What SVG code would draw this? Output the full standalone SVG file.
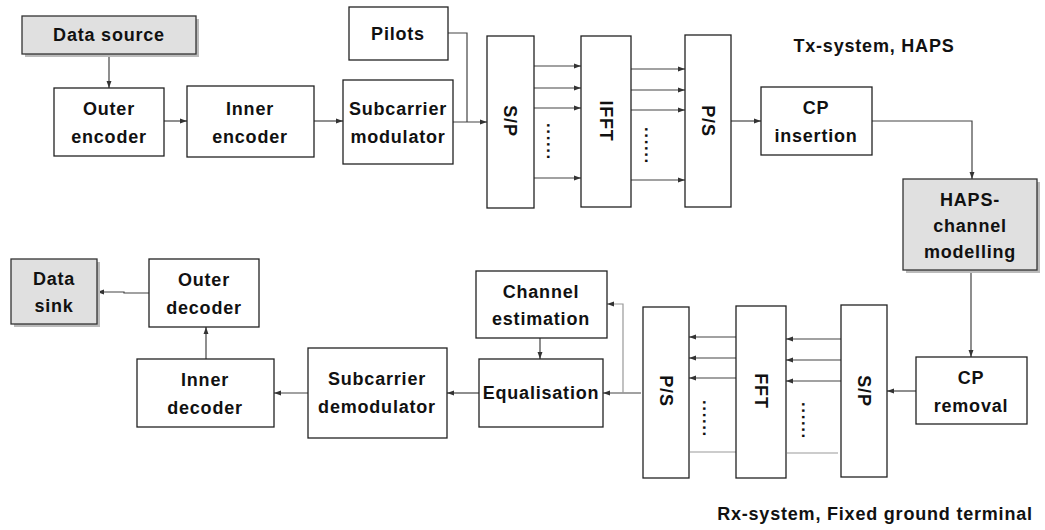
<svg xmlns="http://www.w3.org/2000/svg" width="1045" height="530" viewBox="0 0 1045 530">
<style>
.b{fill:#fff;stroke:#222;stroke-width:1.3}
.g{fill:#e0e0e0;stroke:#333;stroke-width:1.3}
.sh{fill:#bbb;stroke:none}
.t{font-family:"Liberation Sans",Arial,sans-serif;font-weight:bold;font-size:18px;letter-spacing:0.8px;fill:#111;text-anchor:middle}
.d{font-family:"Liberation Sans",Arial,sans-serif;font-weight:bold;font-size:17px;fill:#111;letter-spacing:1.6px}
.c{fill:none;stroke:#444;stroke-width:1.2}
.cl{fill:none;stroke:#999;stroke-width:1.2}
</style>
<defs>
<marker id="a" viewBox="0 0 10 10" refX="10" refY="5" markerWidth="7" markerHeight="7" orient="auto" markerUnits="userSpaceOnUse">
<path d="M0,1.5 L10,5 L0,8.5 z" fill="#333"/>
</marker>
</defs>
<g id="connectors">
<path class="c" d="M109,54 V88" marker-end="url(#a)"/>
<path class="c" d="M164,121 H187" marker-end="url(#a)"/>
<path class="c" d="M314,121 H343" marker-end="url(#a)"/>
<path class="c" d="M453,122 H487" marker-end="url(#a)"/>
<path class="c" d="M448,33 H467 V122" />
<path class="c" d="M534,66 H581" marker-end="url(#a)"/>
<path class="c" d="M534,88 H581" marker-end="url(#a)"/>
<path class="c" d="M534,108 H581" marker-end="url(#a)"/>
<path class="c" d="M534,178 H581" marker-end="url(#a)"/>
<path class="c" d="M631,69 H685" marker-end="url(#a)"/>
<path class="c" d="M631,90 H685" marker-end="url(#a)"/>
<path class="c" d="M631,110 H685" marker-end="url(#a)"/>
<path class="c" d="M631,180 H685" marker-end="url(#a)"/>
<path class="c" d="M731,121 H761" marker-end="url(#a)"/>
<path class="c" d="M872,121 H972 V179" marker-end="url(#a)"/>
<path class="c" d="M971,270 V357" marker-end="url(#a)"/>
<path class="c" d="M916,391 H887" marker-end="url(#a)"/>
<path class="c" d="M841,339 H786" marker-end="url(#a)"/>
<path class="c" d="M841,360 H786" marker-end="url(#a)"/>
<path class="c" d="M841,381 H786" marker-end="url(#a)"/>
<path class="cl" d="M838,453 H787"/>
<path class="c" d="M736,337 H689" marker-end="url(#a)"/>
<path class="c" d="M736,358 H689" marker-end="url(#a)"/>
<path class="c" d="M736,378 H689" marker-end="url(#a)"/>
<path class="cl" d="M736,452 H690"/>
<path class="c" d="M641,393 H603" marker-end="url(#a)"/>
<path class="cl" d="M623,393 V304 H607" marker-end="url(#a)"/>
<path class="c" d="M540,338 V359" marker-end="url(#a)"/>
<path class="c" d="M479,393 H447" marker-end="url(#a)"/>
<path class="c" d="M308,393 H274" marker-end="url(#a)"/>
<path class="c" d="M206,359 V327" marker-end="url(#a)"/>
<path class="c" d="M149,293 H124 V292 H97" marker-end="url(#a)"/>
</g>
<g id="data-source"><rect class="sh" x="25" y="19" width="174" height="38"/><rect class="g" x="22" y="16" width="174" height="38"/><text class="t" x="109" y="41">Data source</text></g>
<g id="outer-encoder"><rect class="b" x="54" y="88" width="110" height="68"/><text class="t" x="109" y="115">Outer</text><text class="t" x="109" y="143">encoder</text></g>
<g id="inner-encoder"><rect class="b" x="187" y="86" width="127" height="71"/><text class="t" x="250" y="115">Inner</text><text class="t" x="250" y="143">encoder</text></g>
<g id="pilots"><rect class="b" x="349" y="7" width="99" height="53"/><text class="t" x="398" y="40">Pilots</text></g>
<g id="subcarrier-modulator"><rect class="b" x="343" y="80" width="110" height="84"/><text class="t" x="398" y="115">Subcarrier</text><text class="t" x="398" y="143">modulator</text></g>
<g id="sp-tx"><rect class="b" x="487" y="36" width="47" height="172"/><text class="t" transform="translate(504,121) rotate(90)">S/P</text></g>
<g id="dots-tx1"><text class="d" transform="translate(547,123) rotate(90)">......</text></g>
<g id="ifft"><rect class="b" x="581" y="36" width="50" height="171"/><text class="t" transform="translate(600,121) rotate(90)">IFFT</text></g>
<g id="dots-tx2"><text class="d" transform="translate(645,127) rotate(90)">......</text></g>
<g id="ps-tx"><rect class="b" x="685" y="35" width="46" height="172"/><text class="t" transform="translate(702,121) rotate(90)">P/S</text></g>
<g id="cp-insertion"><rect class="b" x="761" y="87" width="111" height="68"/><text class="t" x="816" y="114">CP</text><text class="t" x="816" y="142">insertion</text></g>
<g id="tx-label"><text class="t" x="874" y="52">Tx-system, HAPS</text></g>
<g id="haps-channel"><rect class="sh" x="906" y="182" width="134" height="91"/><rect class="g" x="903" y="179" width="134" height="91"/><text class="t" x="970" y="206">HAPS-</text><text class="t" x="970" y="232">channel</text><text class="t" x="970" y="258">modelling</text></g>
<g id="cp-removal"><rect class="b" x="916" y="357" width="111" height="67"/><text class="t" x="971" y="384">CP</text><text class="t" x="971" y="412">removal</text></g>
<g id="sp-rx"><rect class="b" x="841" y="305" width="46" height="172"/><text class="t" transform="translate(858,391) rotate(90)">S/P</text></g>
<g id="dots-rx2"><text class="d" transform="translate(802,402) rotate(90)">......</text></g>
<g id="fft"><rect class="b" x="736" y="306" width="50" height="172"/><text class="t" transform="translate(755,391) rotate(90)">FFT</text></g>
<g id="dots-rx1"><text class="d" transform="translate(703,400) rotate(90)">......</text></g>
<g id="ps-rx"><rect class="b" x="643" y="307" width="46" height="171"/><text class="t" transform="translate(660,391) rotate(90)">P/S</text></g>
<g id="channel-estimation"><rect class="b" x="476" y="271" width="131" height="67"/><text class="t" x="541" y="298">Channel</text><text class="t" x="541" y="325">estimation</text></g>
<g id="equalisation"><rect class="b" x="479" y="359" width="124" height="68"/><text class="t" x="541" y="399">Equalisation</text></g>
<g id="subcarrier-demodulator"><rect class="b" x="308" y="348" width="139" height="90"/><text class="t" x="377" y="385">Subcarrier</text><text class="t" x="377" y="413">demodulator</text></g>
<g id="inner-decoder"><rect class="b" x="137" y="359" width="137" height="68"/><text class="t" x="205" y="386">Inner</text><text class="t" x="205" y="414">decoder</text></g>
<g id="outer-decoder"><rect class="b" x="149" y="259" width="110" height="68"/><text class="t" x="204" y="286">Outer</text><text class="t" x="204" y="314">decoder</text></g>
<g id="data-sink"><rect class="sh" x="14" y="262" width="86" height="65"/><rect class="g" x="11" y="259" width="86" height="65"/><text class="t" x="54" y="285">Data</text><text class="t" x="54" y="312">sink</text></g>
<g id="rx-label"><text class="t" x="875" y="520">Rx-system, Fixed ground terminal</text></g>
</svg>
